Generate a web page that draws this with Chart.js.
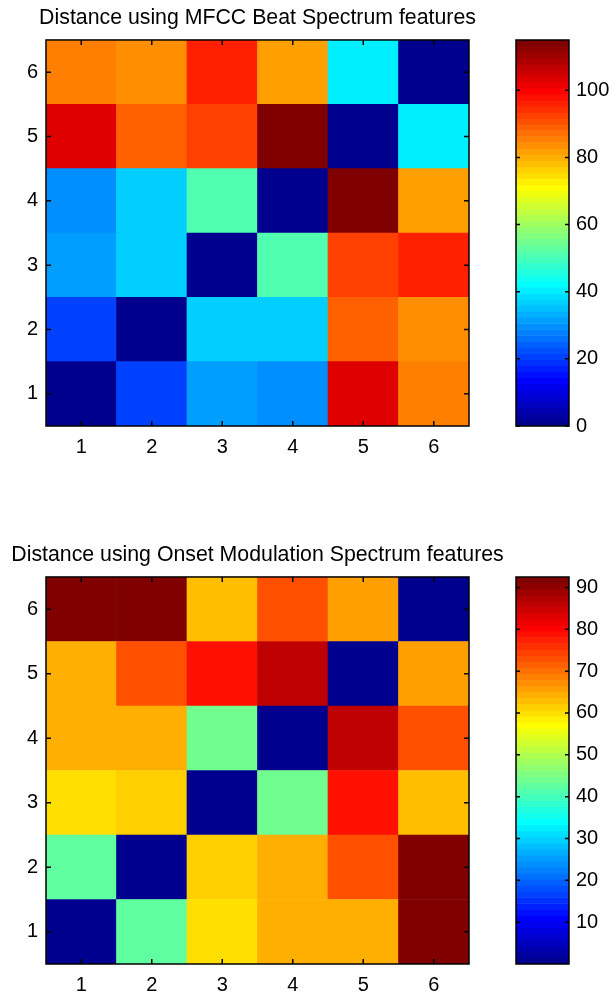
<!DOCTYPE html>
<html>
<head>
<meta charset="utf-8">
<script src="https://cdn.jsdelivr.net/npm/chart.js@4/dist/chart.umd.min.js"></script>
<style>
  body { margin: 0; background: #fff; }
  #wrap { position: relative; width: 613px; height: 995px; }
  canvas { position: absolute; }
</style>
</head>
<body>
<div id="wrap">
  <canvas id="mfccMap" width="515" height="480" style="left:0;top:0"></canvas>
  <canvas id="mfccBar" width="133" height="480" style="left:480px;top:0"></canvas>
  <canvas id="onsetMap" width="515" height="475" style="left:0;top:520px"></canvas>
  <canvas id="onsetBar" width="133" height="475" style="left:480px;top:520px"></canvas>
</div>
<script>
// axis labels
const colLabels = ['1', '2', '3', '4', '5', '6'];
const rowLabels = [1, 2, 3, 4, 5, 6];

// distance matrices, first row is y = 1 (bottom of the picture)
const mfccDistance = [
    [0, 20.7, 31.4, 29.6, 103.3, 85.3],
    [20.7, 0, 36.8, 36.8, 88.9, 83.5],
    [31.4, 36.8, 0, 51.2, 92.5, 96.1],
    [29.6, 36.8, 51.2, 0, 115, 81.8],
    [103.3, 88.9, 92.5, 115, 0, 40.4],
    [85.3, 83.5, 96.1, 81.8, 40.4, 0]
];
const onsetDistance = [
    [0, 42.6, 60.0, 64.3, 64.3, 92.5],
    [42.6, 0, 61.4, 64.3, 73.0, 92.0],
    [60.0, 61.4, 0, 44.1, 78.8, 62.9],
    [64.3, 64.3, 44.1, 0, 86.0, 73.0],
    [64.3, 73.0, 78.8, 86.0, 0, 65.7],
    [92.5, 92.0, 62.9, 73.0, 65.7, 0]
];

// colorbar tick labels
const mfccBarTicks = [0, 20, 40, 60, 80, 100];
const onsetBarTicks = [10, 20, 30, 40, 50, 60, 70, 80, 90];

Chart.defaults.font.family = '"Liberation Sans", Arial, sans-serif';
Chart.defaults.font.size = 20;
Chart.defaults.color = '#000';

// matlab style jet colormap
function jet(n) {
    const m = Math.ceil(n / 4);
    const u = [];
    for (let i = 1; i <= m; i++) u.push(i / m);
    for (let i = 1; i < m; i++) u.push(1);
    for (let i = m; i >= 1; i--) u.push(i / m);
    const base = Math.ceil(n / 8) - (n % 4 === 1 ? 1 : 0);
    const g = u.map((_, k) => base + k + 1);
    const r = g.map(v => v + m).filter(v => v <= n);
    const b = g.map(v => v - m).filter(v => v >= 1);
    const gg = g.filter(v => v <= n);
    const J = Array.from({length: n}, () => [0, 0, 0]);
    r.forEach((idx, k) => J[idx - 1][0] = u[k]);
    gg.forEach((idx, k) => J[idx - 1][1] = u[k]);
    b.forEach((idx, k) => J[idx - 1][2] = u[u.length - b.length + k]);
    return J.map(c => 'rgb(' + c.map(x => Math.round(x * 255)).join(',') + ')');
}
const jetColors = jet(64);
const levels = jetColors.map((_, i) => i);

function colorFor(v, lo, hi) {
    const idx = Math.min(63, Math.floor((v - lo) / (hi - lo) * 64));
    return jetColors[idx];
}

// box round the axes with inward tick marks
const boxTicks = {
    id: 'boxTicks',
    afterDatasetsDraw(chart, args, opts) {
        const {ctx, chartArea: a} = chart;
        const len = opts.tickLength;
        ctx.save();
        ctx.strokeStyle = '#000';
        ctx.lineWidth = 1.5;
        ctx.beginPath();
        if (opts.xScale) {
            const xs = chart.scales[opts.xScale];
            xs.ticks.forEach((t, i) => {
                const px = xs.getPixelForTick(i);
                ctx.moveTo(px, a.bottom); ctx.lineTo(px, a.bottom - len);
                ctx.moveTo(px, a.top); ctx.lineTo(px, a.top + len);
            });
        }
        if (opts.yScale) {
            const ys = chart.scales[opts.yScale];
            ys.ticks.forEach((t, i) => {
                const py = ys.getPixelForTick(i);
                ctx.moveTo(a.left, py); ctx.lineTo(a.left + len, py);
                ctx.moveTo(a.right, py); ctx.lineTo(a.right - len, py);
            });
        }
        ctx.stroke();
        ctx.strokeRect(a.left, a.top, a.right - a.left, a.bottom - a.top);
        ctx.restore();
    }
};

function dataRange(matrix) {
    const all = matrix.flat();
    return [Math.min(...all), Math.max(...all)];
}

function drawMap(id, matrix, title, titlePad, axisHeight, bottomPad) {
    const [lo, hi] = dataRange(matrix);
    return new Chart(document.getElementById(id), {
        type: 'bar',
        data: {
            labels: colLabels,
            datasets: rowLabels.map((r, ri) => ({
                data: matrix[ri].map(() => [r - 0.5, r + 0.5]),
                backgroundColor: matrix[ri].map(v => colorFor(v, lo, hi)),
                borderWidth: 0,
                grouped: false,
                barPercentage: 1,
                categoryPercentage: 1
            }))
        },
        plugins: [boxTicks],
        options: {
            responsive: false,
            animation: false,
            layout: {padding: {left: 0, right: 0, top: 0, bottom: bottomPad}},
            plugins: {
                legend: {display: false},
                tooltip: {enabled: false},
                title: {
                    display: true,
                    text: title,
                    color: '#000',
                    font: {size: 21.3, weight: 'normal', lineHeight: 1.2},
                    padding: titlePad
                },
                boxTicks: {xScale: 'x', yScale: 'y', tickLength: 5}
            },
            scales: {
                x: {
                    grid: {display: false, drawTicks: false},
                    border: {display: false},
                    ticks: {padding: 9, maxRotation: 0, autoSkip: false},
                    afterFit: s => { s.height = axisHeight; }
                },
                y: {
                    type: 'linear',
                    min: 0.5,
                    max: 6.5,
                    grid: {display: false, drawTicks: false},
                    border: {display: false},
                    ticks: {padding: 8},
                    afterBuildTicks: s => { s.ticks = rowLabels.map(v => ({value: v})); },
                    afterFit: s => { s.width = 46; }
                },
                // empty right axis, keeps the title centred over the cells
                yRight: {
                    type: 'linear',
                    position: 'right',
                    min: 0.5,
                    max: 6.5,
                    grid: {display: false, drawTicks: false},
                    border: {display: false},
                    ticks: {display: false},
                    afterFit: s => { s.width = 46; }
                }
            }
        }
    });
}

function drawBar(id, matrix, tickValues, topPad, bottomPad) {
    const [lo, hi] = dataRange(matrix);
    return new Chart(document.getElementById(id), {
        type: 'bar',
        data: {
            labels: levels,
            datasets: [{
                data: levels.map(() => 1),
                backgroundColor: jetColors,
                borderWidth: 0,
                barPercentage: 1,
                categoryPercentage: 1
            }]
        },
        plugins: [boxTicks],
        options: {
            indexAxis: 'y',
            responsive: false,
            animation: false,
            layout: {padding: {left: 36, right: 0, top: topPad, bottom: bottomPad}},
            plugins: {
                legend: {display: false},
                tooltip: {enabled: false},
                boxTicks: {yScale: 'cb', tickLength: 4}
            },
            scales: {
                x: {type: 'linear', min: 0, max: 1, display: false},
                y: {type: 'category', reverse: true, display: false},
                cb: {
                    type: 'linear',
                    axis: 'y',
                    position: 'right',
                    offset: false,
                    min: lo,
                    max: hi,
                    grid: {display: false, drawTicks: false},
                    border: {display: false},
                    ticks: {padding: 7},
                    afterBuildTicks: s => { s.ticks = tickValues.map(v => ({value: v})); },
                    afterFit: s => { s.width = 44; }
                }
            }
        }
    });
}

drawMap('mfccMap', mfccDistance, 'Distance using MFCC Beat Spectrum features', {top: 5.8, bottom: 8.6}, 36, 18);
drawBar('mfccBar', mfccDistance, mfccBarTicks, 40, 54);
drawMap('onsetMap', onsetDistance, 'Distance using Onset Modulation Spectrum features', {top: 22.8, bottom: 8.6}, 31, 0);
drawBar('onsetBar', onsetDistance, onsetBarTicks, 57, 31);
</script>
</body>
</html>
